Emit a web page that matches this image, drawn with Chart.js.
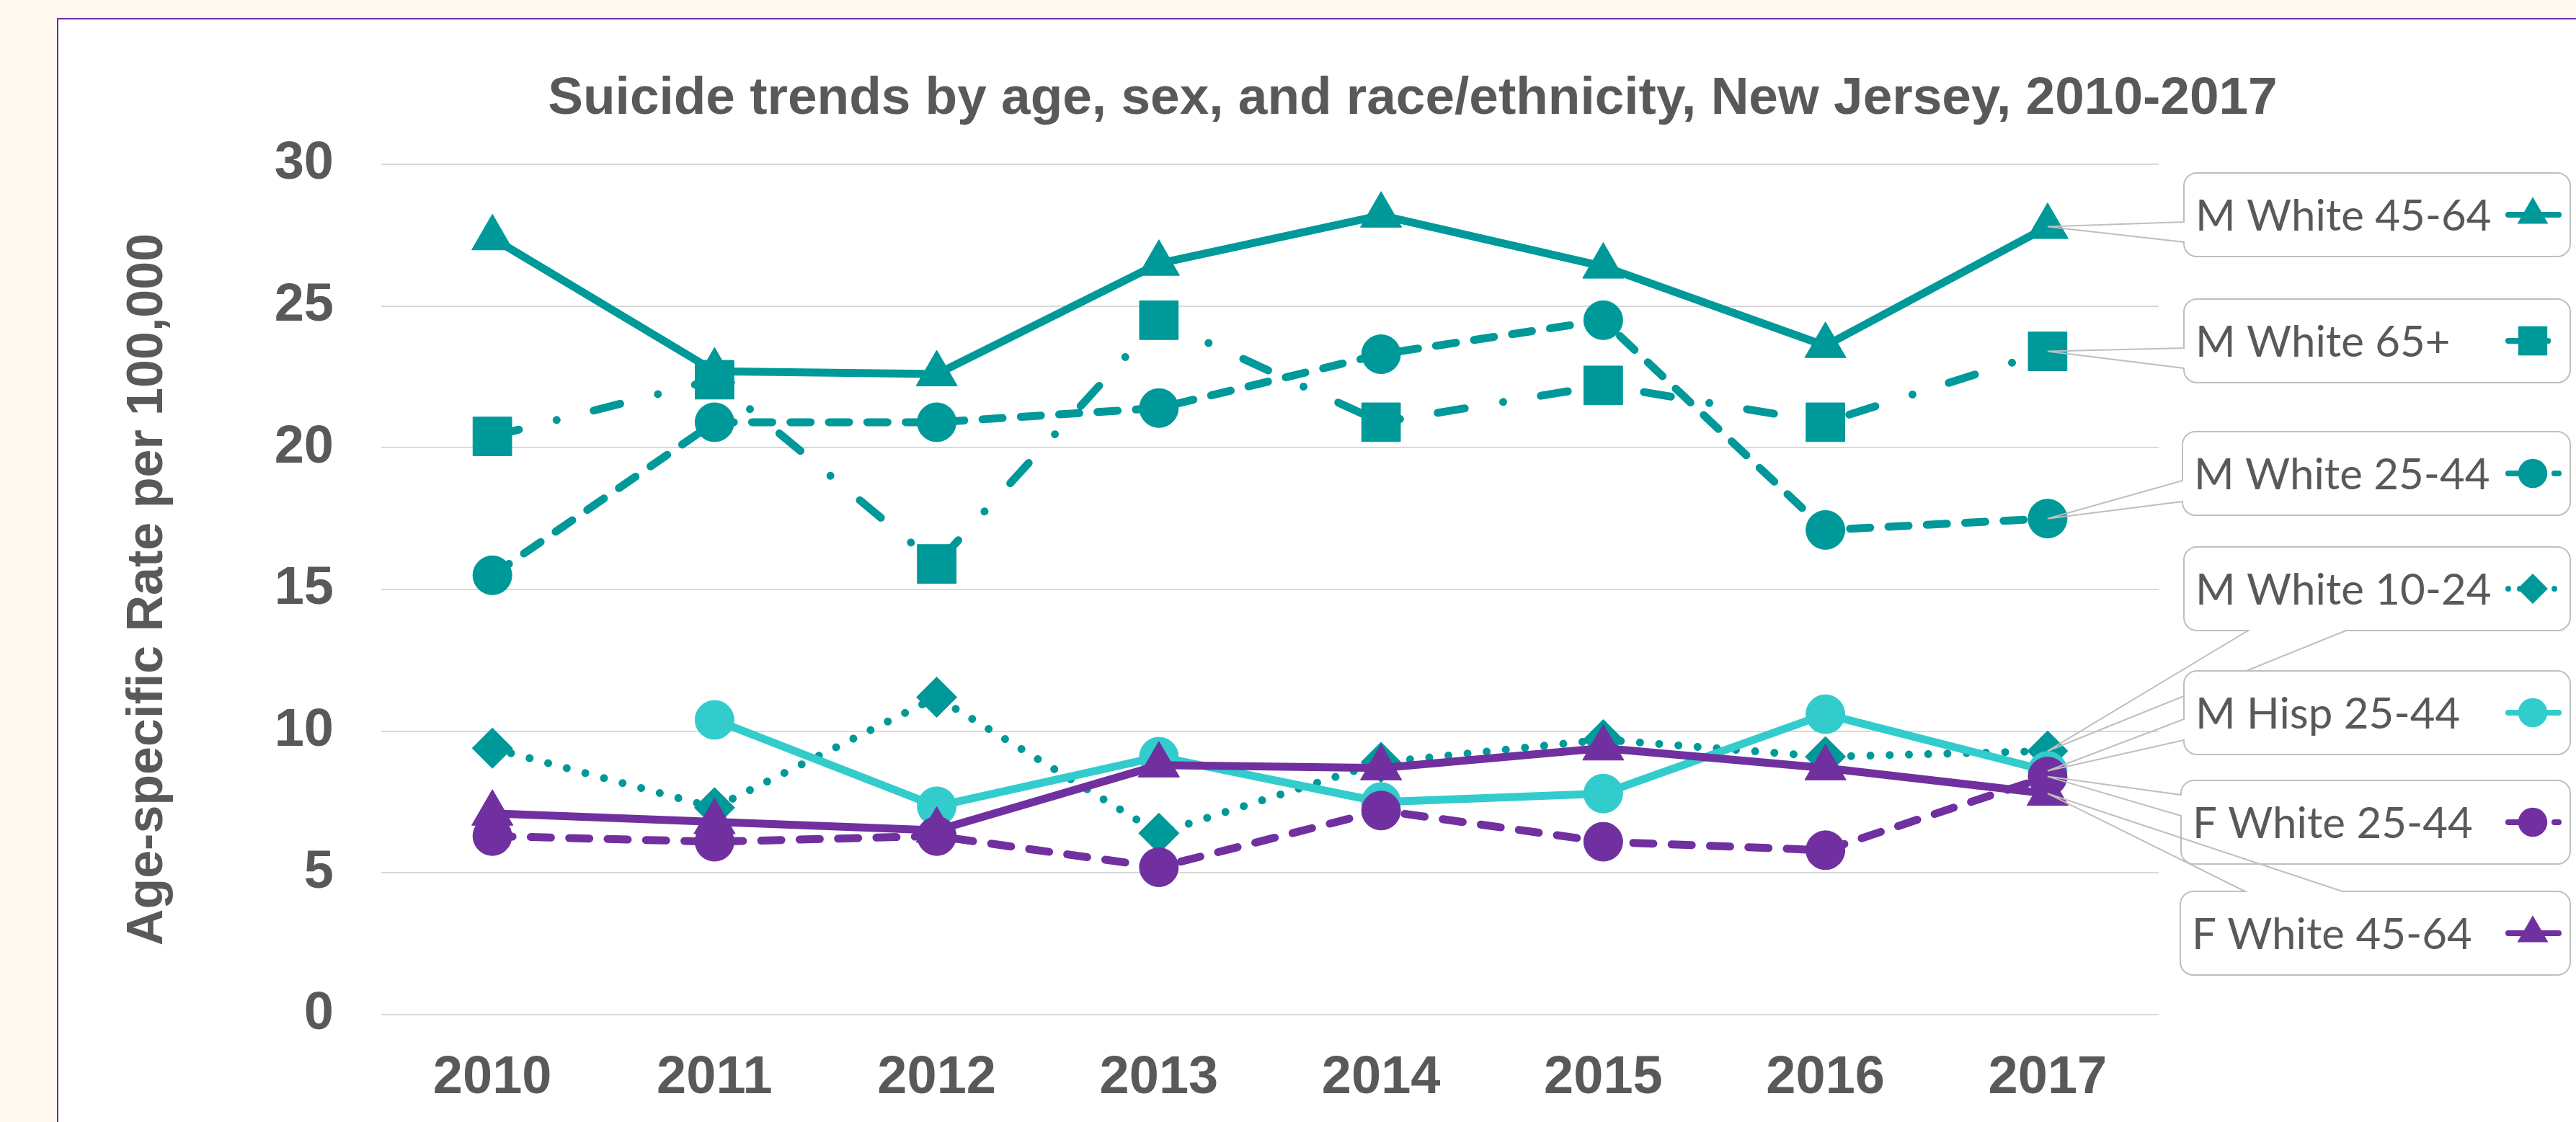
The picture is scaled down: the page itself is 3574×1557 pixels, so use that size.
<!DOCTYPE html>
<html>
<head>
<meta charset="utf-8">
<script src="https://cdn.jsdelivr.net/npm/chart.js@4.4.1/dist/chart.umd.min.js"></script>
<style>
html, body { margin: 0; padding: 0; background: #FEF8F0; }
#wrap { position: absolute; left: 0; top: 0; width: 3574px; height: 1557px; }
canvas { display: block; }
</style>
</head>
<body>
<div id="wrap"><canvas id="chart" width="3574" height="1557"></canvas></div>
<script>
// ---------- data ----------
const chartTitle = 'Suicide trends by age, sex, and race/ethnicity, New Jersey, 2010-2017';
const yAxisTitle = 'Age-specific Rate per 100,000';
const years = ['2010', '2011', '2012', '2013', '2014', '2015', '2016', '2017'];
const yTicks = [0, 5, 10, 15, 20, 25, 30];
const seriesNames = ['M White 45-64', 'M White 65+', 'M White 25-44', 'M White 10-24',
                     'M Hisp 25-44', 'F White 25-44', 'F White 45-64'];
const mWhite4564 = [27.4, 22.7, 22.6, 26.5, 28.2, 26.4, 23.6, 27.8];
const mWhite65   = [20.4, 22.4, 15.9, 24.5, 20.9, 22.2, 20.9, 23.4];
const mWhite2544 = [15.5, 20.9, 20.9, 21.4, 23.3, 24.5, 17.1, 17.5];
const mWhite1024 = [9.4, 7.3, 11.2, 6.4, 8.9, 9.7, 9.1, 9.3];
const mHisp2544  = [null, 10.4, 7.35, 9.1, 7.5, 7.8, 10.6, 8.6];
const fWhite2544 = [6.3, 6.1, 6.3, 5.2, 7.2, 6.1, 5.8, 8.4];
const fWhite4564 = [7.1, 6.8, 6.5, 8.8, 8.7, 9.4, 8.7, 7.8];

// ---------- styles ----------
const TEAL = '#009999', CYAN = '#33CCCC', PURPLE = '#7030A0';
const TXT = '#595959';
const LW = 11;
const DASH = [28, 25.3];
const LONGDASHDOT = [38, 54, 0.01, 53];
const DOT = [0.01, 26.7];

const styles = [
  { color: TEAL,   dash: [],          shape: 'triangle', r: 33 },
  { color: TEAL,   dash: LONGDASHDOT, shape: 'rect',     r: 38 },
  { color: TEAL,   dash: DASH,        shape: 'circle',   r: 27 },
  { color: TEAL,   dash: DOT,         shape: 'rectRot',  r: 28 },
  { color: CYAN,   dash: [],          shape: 'circle',   r: 27 },
  { color: PURPLE, dash: DASH,        shape: 'circle',   r: 27 },
  { color: PURPLE, dash: [],          shape: 'triangle', r: 33 }
];
const seriesData = [mWhite4564, mWhite65, mWhite2544, mWhite1024, mHisp2544, fWhite2544, fWhite4564];

// callout boxes (layout only)
const boxes = [
  { top: 240,  left: 3030, side: 'left',   a: 68,   b: 96 },
  { top: 415,  left: 3030, side: 'left',   a: 68,   b: 96 },
  { top: 599,  left: 3028, side: 'left',   a: 68,   b: 97 },
  { top: 759,  left: 3030, side: 'bottom', a: 3119, b: 3255 },
  { top: 931,  left: 3030, side: 'left',   a: 67,   b: 96 },
  { top: 1083, left: 3026, side: 'left',   a: 20,   b: 49 },
  { top: 1237, left: 3025, side: 'top',    a: 3115, b: 3250 }
];
const BOX_H = 116, BOX_R = 3566, BOX_RAD = 18;
const LEGEND_FONT = '60px Lato, "Open Sans", sans-serif';

const datasets = seriesNames.map((name, i) => ({
  label: name,
  data: seriesData[i],
  borderColor: styles[i].color,
  backgroundColor: styles[i].color,
  borderWidth: LW,
  borderDash: styles[i].dash,
  borderCapStyle: 'round',
  borderJoinStyle: 'round',
  pointStyle: styles[i].shape,
  pointRadius: styles[i].r,
  pointHoverRadius: styles[i].r,
  pointBorderWidth: 1,
  pointBorderColor: styles[i].color,
  pointBackgroundColor: styles[i].color,
  tension: 0,
  fill: false,
  order: seriesNames.length - i
}));

function drawMarker(ctx, shape, x, y, r, color) {
  ctx.save();
  ctx.fillStyle = color;
  ctx.beginPath();
  if (shape === 'circle') {
    ctx.arc(x, y, r, 0, Math.PI * 2);
  } else if (shape === 'rect') {
    const s = r * Math.SQRT1_2;
    ctx.rect(x - s, y - s, 2 * s, 2 * s);
  } else if (shape === 'rectRot') {
    ctx.moveTo(x - r, y); ctx.lineTo(x, y - r); ctx.lineTo(x + r, y); ctx.lineTo(x, y + r);
  } else if (shape === 'triangle') {
    let a = 0;
    ctx.moveTo(x + Math.sin(a) * r, y - Math.cos(a) * r);
    a += 2 * Math.PI / 3;
    ctx.lineTo(x + Math.sin(a) * r, y - Math.cos(a) * r);
    a += 2 * Math.PI / 3;
    ctx.lineTo(x + Math.sin(a) * r, y - Math.cos(a) * r);
  }
  ctx.closePath();
  ctx.fill();
  ctx.restore();
}

const backgroundPlugin = {
  id: 'panelBg',
  beforeDraw(chart) {
    const ctx = chart.ctx;
    ctx.save();
    ctx.fillStyle = '#FEF8F0';
    ctx.fillRect(0, 0, chart.width, chart.height);
    ctx.fillStyle = '#FFFFFF';
    ctx.fillRect(80, 26, chart.width - 80, chart.height - 26);
    ctx.strokeStyle = PURPLE;
    ctx.lineWidth = 2;
    ctx.beginPath();
    ctx.moveTo(80, chart.height);
    ctx.lineTo(80, 26);
    ctx.lineTo(chart.width, 26);
    ctx.stroke();
    // title
    ctx.fillStyle = TXT;
    ctx.font = 'bold 73px "Liberation Sans", Arial, sans-serif';
    ctx.textAlign = 'center';
    ctx.textBaseline = 'alphabetic';
    ctx.fillText(chartTitle, 1960, 158);
    ctx.restore();
  }
};

const calloutPlugin = {
  id: 'callouts',
  afterDatasetsDraw(chart) {
    const ctx = chart.ctx;
    const xs = chart.scales.x, ys = chart.scales.y;
    const last = years.length - 1;

    boxes.forEach((b, i) => {
      const tip = { x: xs.getPixelForValue(last), y: ys.getPixelForValue(seriesData[i][last]) };
      const l = b.left, t = b.top, r = BOX_R, bt = b.top + BOX_H, rad = BOX_RAD;
      ctx.save();
      // white box fill
      ctx.beginPath();
      ctx.moveTo(l + rad, t);
      ctx.arcTo(r, t, r, bt, rad);
      ctx.arcTo(r, bt, l, bt, rad);
      ctx.arcTo(l, bt, l, t, rad);
      ctx.arcTo(l, t, r, t, rad);
      ctx.closePath();
      ctx.fillStyle = '#FFFFFF';
      ctx.fill();
      // outline with pointer
      ctx.beginPath();
      ctx.moveTo(l + rad, t);
      if (b.side === 'top') { ctx.lineTo(b.a, t); ctx.lineTo(tip.x, tip.y); ctx.lineTo(b.b, t); }
      ctx.lineTo(r - rad, t);
      ctx.arcTo(r, t, r, t + rad, rad);
      ctx.lineTo(r, bt - rad);
      ctx.arcTo(r, bt, r - rad, bt, rad);
      if (b.side === 'bottom') { ctx.lineTo(b.b, bt); ctx.lineTo(tip.x, tip.y); ctx.lineTo(b.a, bt); }
      ctx.lineTo(l + rad, bt);
      ctx.arcTo(l, bt, l, bt - rad, rad);
      if (b.side === 'left') { ctx.lineTo(l, t + b.b); ctx.lineTo(tip.x, tip.y); ctx.lineTo(l, t + b.a); }
      ctx.lineTo(l, t + rad);
      ctx.arcTo(l, t, l + rad, t, rad);
      ctx.closePath();
      ctx.strokeStyle = '#BFBFBF';
      ctx.lineWidth = 2;
      ctx.lineJoin = 'miter';
      ctx.stroke();
      // label text
      ctx.fillStyle = TXT;
      ctx.font = LEGEND_FONT;
      ctx.textAlign = 'left';
      ctx.textBaseline = 'alphabetic';
      ctx.fillText(seriesNames[i], l + 16, t + 80);
      // legend key
      const ky = t + 58;
      ctx.beginPath();
      ctx.strokeStyle = styles[i].color;
      ctx.lineWidth = 8;
      ctx.lineCap = 'round';
      ctx.setLineDash(styles[i].dash.map(v => v * 0.6));
      ctx.moveTo(3480, ky);
      ctx.lineTo(3550, ky);
      ctx.stroke();
      ctx.setLineDash([]);
      drawMarker(ctx, styles[i].shape, 3514, ky, styles[i].r * 0.75, styles[i].color);
      ctx.restore();
    });
  }
};

const tickFont = { family: '"Liberation Sans", Arial, sans-serif', size: 74, weight: 'bold' };

new Chart(document.getElementById('chart'), {
  type: 'line',
  data: { labels: years, datasets: datasets },
  options: {
    responsive: false,
    animation: false,
    devicePixelRatio: 1,
    layout: { padding: { left: 80, right: 579, top: 228, bottom: 0 } },
    plugins: {
      legend: { display: false },
      title: { display: false },
      tooltip: { enabled: false }
    },
    scales: {
      x: {
        type: 'category',
        offset: true,
        grid: { display: false, drawTicks: false },
        border: { display: false },
        ticks: { color: TXT, font: tickFont, padding: 44, maxRotation: 0, autoSkip: false },
        afterFit(scale) { scale.height = 149; }
      },
      y: {
        min: 0,
        max: 30,
        grid: { color: '#D9D9D9', lineWidth: 2, drawTicks: false },
        border: { display: false },
        ticks: { color: TXT, font: tickFont, padding: 66 },
        afterBuildTicks(scale) { scale.ticks = yTicks.map(v => ({ value: v })); },
        afterFit(scale) { scale.width = 449; },
        title: {
          display: true,
          text: yAxisTitle,
          color: TXT,
          font: { family: '"Liberation Sans", Arial, sans-serif', size: 70, weight: 'bold' },
          padding: { top: 84, bottom: 0 }
        }
      }
    }
  },
  plugins: [backgroundPlugin, calloutPlugin]
});
</script>
</body>
</html>
